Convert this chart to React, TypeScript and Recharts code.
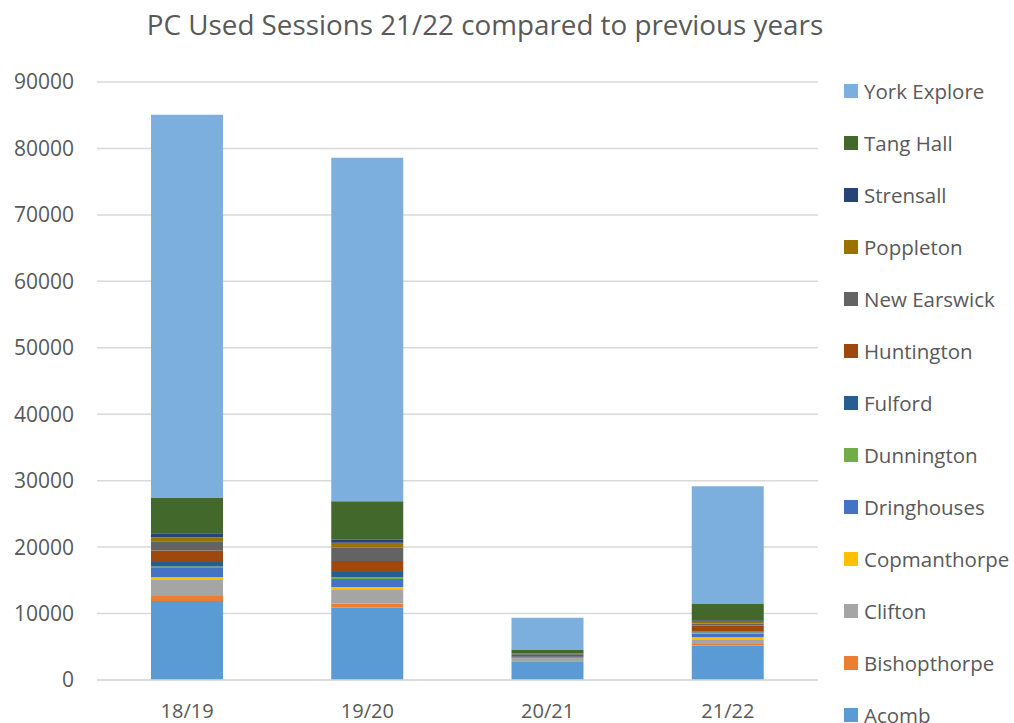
import React from "react";
import {
  BarChart,
  Bar,
  XAxis,
  YAxis,
  CartesianGrid,
  Legend,
} from "recharts";

//========== Chart Data ==========
const years = ["18/19", "19/20", "20/21", "21/22"];

const acomb = [11900, 10900, 2750, 5200];
const bishopthorpe = [750, 600, 100, 200];
const clifton = [2500, 2150, 450, 750];
const copmanthorpe = [300, 350, 50, 300];
const dringhouses = [1400, 1200, 100, 500];
const dunnington = [250, 250, 30, 200];
const fulford = [650, 800, 80, 150];
const huntington = [1750, 1650, 250, 900];
const newEarswick = [1400, 2000, 100, 300];
const poppleton = [600, 750, 100, 250];
const strensall = [600, 450, 50, 250];
const tangHall = [5370, 5800, 450, 2450];
const yorkExplore = [57600, 51700, 4850, 17700];

const yTicks = [0, 10000, 20000, 30000, 40000, 50000, 60000, 70000, 80000, 90000];

const series = [
  { key: "Acomb", values: acomb, color: "#5B9BD5" },
  { key: "Bishopthorpe", values: bishopthorpe, color: "#ED7D31" },
  { key: "Clifton", values: clifton, color: "#A5A5A5" },
  { key: "Copmanthorpe", values: copmanthorpe, color: "#FFC000" },
  { key: "Dringhouses", values: dringhouses, color: "#4472C4" },
  { key: "Dunnington", values: dunnington, color: "#70AD47" },
  { key: "Fulford", values: fulford, color: "#255E91" },
  { key: "Huntington", values: huntington, color: "#9E480E" },
  { key: "New Earswick", values: newEarswick, color: "#636363" },
  { key: "Poppleton", values: poppleton, color: "#997300" },
  { key: "Strensall", values: strensall, color: "#264478" },
  { key: "Tang Hall", values: tangHall, color: "#43682B" },
  { key: "York Explore", values: yorkExplore, color: "#7CAFDD" },
];

const data = years.map((year, i) => {
  const row: Record<string, string | number> = { year };
  series.forEach((s) => {
    row[s.key] = s.values[i];
  });
  return row;
});

const FONT = "'Open Sans', sans-serif";
const TEXT = "#595959";

//========== Legend (reversed, like Excel) ==========
const renderLegend = (props: any) => {
  const items = [...(props.payload || [])].reverse();
  return (
    <div>
      {items.map((item: any) => (
        <div
          key={item.value}
          style={{
            display: "flex",
            alignItems: "center",
            height: 52,
            fontFamily: FONT,
            fontSize: 20.5,
            color: TEXT,
            whiteSpace: "nowrap",
          }}
        >
          <span
            style={{
              width: 14,
              height: 14,
              background: item.color,
              marginRight: 6,
              display: "inline-block",
            }}
          />
          {item.value}
        </div>
      ))}
    </div>
  );
};

//========== Chart Component ==========
const App: React.FC = () => {
  return (
    <div style={{ position: "absolute", left: 0, top: 0, width: 1014, height: 723, background: "#fff", overflow: "hidden" }}>
      {/*========== Title ==========*/}
      <div
        style={{
          position: "absolute",
          left: 0,
          top: 11,
          width: 970,
          textAlign: "center",
          fontFamily: FONT,
          fontSize: 27.8,
          lineHeight: "27px",
          color: TEXT,
        }}
      >
        PC Used Sessions 21/22 compared to previous years
      </div>

      <BarChart
        width={1014}
        height={723}
        data={data}
        margin={{ top: 82, right: 196, bottom: 0, left: 0 }}
      >
        <CartesianGrid vertical={false} stroke="#D9D9D9" strokeWidth={1.5} />
        <XAxis
          dataKey="year"
          height={43}
          axisLine={{ stroke: "#D9D9D9", strokeWidth: 1.5 }}
          tickLine={false}
          tickSize={0}
          tickMargin={24}
          tick={{ fill: TEXT, fontSize: 20, fontFamily: FONT }}
        />
        <YAxis
          width={97}
          domain={[0, 90000]}
          ticks={yTicks}
          axisLine={false}
          tickLine={false}
          tickSize={0}
          tickMargin={23}
          tick={{ fill: TEXT, fontSize: 21, fontFamily: FONT }}
        />
        <Legend
          layout="vertical"
          align="center"
          verticalAlign="middle"
          content={renderLegend}
          wrapperStyle={{ position: "absolute", left: 844, top: 65, width: 170 }}
        />
        {series.map((s) => (
          <Bar
            key={s.key}
            dataKey={s.key}
            stackId="a"
            fill={s.color}
            barSize={72}
            isAnimationActive={false}
          />
        ))}
      </BarChart>
    </div>
  );
};

export default App;
